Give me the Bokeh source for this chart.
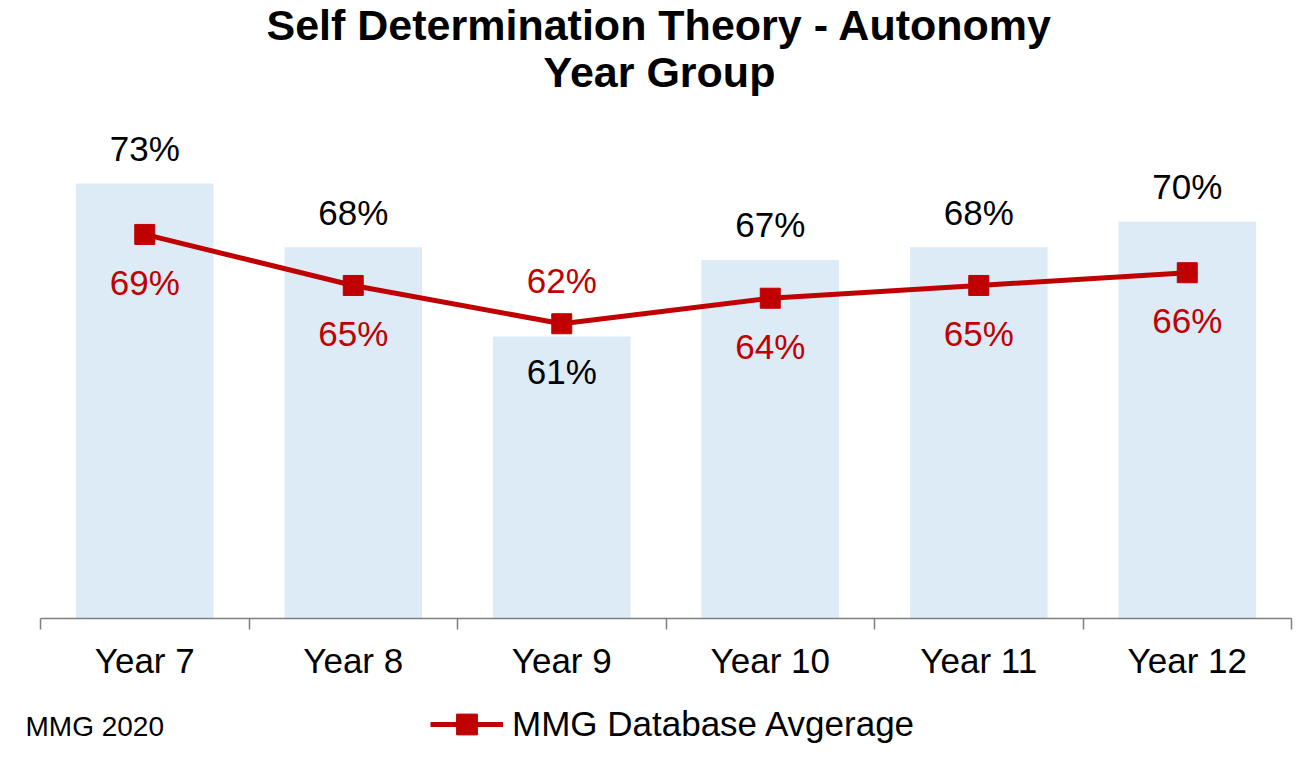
from bokeh.plotting import figure
from bokeh.layouts import column
from bokeh.models import (ColumnDataSource, Label, Legend, LegendItem, FixedTicker,
                          Range1d)
from bokeh.core.properties import value
from bokeh.embed import file_html
from bokeh.resources import INLINE

# ---- data ----
categories = ["Year 7", "Year 8", "Year 9", "Year 10", "Year 11", "Year 12"]
school_values = [0.73, 0.68, 0.61, 0.67, 0.68, 0.70]
database_avg = [0.69, 0.65, 0.62, 0.64, 0.65, 0.66]
series_name = "MMG Database Avgerage"
title_lines = ["Self Determination Theory - Autonomy", "Year Group"]
footnote = "MMG 2020"

# label placement (style): +1 above the point, -1 below
bar_label_side = [1, 1, -1, 1, 1, 1]
line_label_side = [-1, -1, 1, -1, -1, -1]

FONT = "Liberation Sans"
RED = "#C00000"
BAR = "#DDEBF7"
AXIS = "#7f7f7f"

W = 1296
H1, H2 = 690, 54
axis_left, axis_right, bottom = 40, 1291, 72
n = len(categories)
axis_w = axis_right - axis_left
frame_h = H1 - bottom
px_per_unit = 1276.0
y0 = 0.389
y1 = y0 + frame_h / px_per_unit

def y_at(fig_y):
    return y0 + (frame_h - fig_y) / px_per_unit

def x_at(fig_x):
    return (fig_x - axis_left) * n / axis_w

xs = [i + 0.5 for i in range(n)]
src = ColumnDataSource(dict(
    x=xs,
    bar=school_values,
    avg=database_avg,
    bar_txt=[f"{round(v*100)}%" for v in school_values],
    avg_txt=[f"{round(v*100)}%" for v in database_avg],
    bar_off=[-35 if s > 0 else 35 for s in bar_label_side],
    avg_off=[-43 if s > 0 else 48 for s in line_label_side],
))

p = figure(width=W, height=H1, output_backend="svg", toolbar_location=None,
           x_range=Range1d(x_at(0), x_at(W)), y_range=Range1d(y0, y1),
           min_border_left=0, min_border_right=0,
           min_border_top=0, min_border_bottom=bottom,
           y_axis_location=None, title=None)
p.outline_line_color = None
p.xgrid.visible = False
p.ygrid.visible = False

p.vbar(x="x", top="bar", bottom=y0, width=0.66, source=src, fill_color=BAR,
       line_color=None)
p.line(x="x", y="avg", source=src, line_color=RED, line_width=5)
p.scatter(x="x", y="avg", source=src, marker="square", size=20,
          fill_color=RED, line_color=RED)

p.text(x="x", y="bar", text="bar_txt", y_offset="bar_off", source=src,
       text_align="center", text_baseline="middle", text_font_size="35px",
       text_font=value(FONT), text_color="#000000")
p.text(x="x", y="avg", text="avg_txt", y_offset="avg_off", source=src,
       text_align="center", text_baseline="middle", text_font_size="35px",
       text_font=value(FONT), text_color=RED)

ax = p.xaxis[0]
ax.bounds = (0, n)
ax.ticker = FixedTicker(ticks=xs, minor_ticks=list(range(n + 1)))
ax.major_label_overrides = {x: c for x, c in zip(xs, categories)}
ax.major_tick_out = 0
ax.major_tick_in = 0
ax.minor_tick_out = 11
ax.minor_tick_in = 0
ax.minor_tick_line_color = AXIS
ax.minor_tick_line_width = 1.5
ax.axis_line_color = AXIS
ax.axis_line_width = 1.5
ax.major_label_text_font = FONT
ax.major_label_text_font_size = "35px"
ax.major_label_text_color = "#000000"
ax.major_label_standoff = 11

# titles (inside the frame, above the bars)
for txt, fy in zip(title_lines, [24, 71]):
    p.add_layout(Label(x=x_at(659), y=y_at(fy), text=txt, text_align="center",
                       text_baseline="alphabetic", text_font=FONT,
                       text_font_size="43px", text_font_style="bold",
                       text_color="#000000"))

# ---- bottom strip: footnote + legend ----
q = figure(width=W, height=H2, output_backend="svg", toolbar_location=None,
           x_range=Range1d(0, W), y_range=Range1d(100, 100 + H2),
           min_border_left=0, min_border_right=0, min_border_top=0,
           min_border_bottom=0, x_axis_location=None, y_axis_location=None,
           title=None)
q.outline_line_color = None
q.xgrid.visible = False
q.ygrid.visible = False

# legend glyph renderers (their points lie outside this strip's view)
lr = q.line(x="x", y="avg", source=src, line_color=RED, line_width=5)
sr = q.scatter(x="x", y="avg", source=src, marker="square", size=20,
               fill_color=RED, line_color=RED)

q.add_layout(Label(x=25, y=18, x_units="screen", y_units="screen", text=footnote,
                   text_align="left", text_baseline="alphabetic",
                   text_font=FONT, text_font_size="28px", text_color="#000000"))

legend = Legend(items=[LegendItem(label=series_name, renderers=[lr, sr])],
                location=(430, -6), orientation="horizontal", padding=0,
                margin=0, spacing=0, glyph_width=73, glyph_height=52,
                label_standoff=9, label_text_font=FONT,
                label_text_font_size="35px", label_text_color="#000000",
                border_line_alpha=0, background_fill_alpha=0)
q.add_layout(legend)

layout = column(p, q, spacing=0)
open("out.html", "w").write(file_html(layout, INLINE))
